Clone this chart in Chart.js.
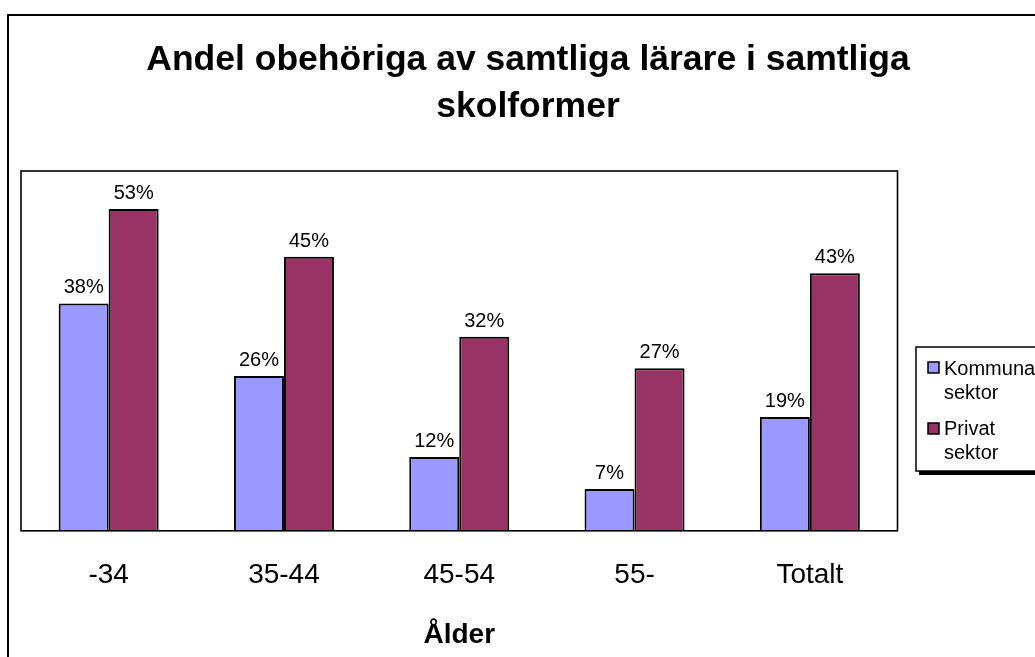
<!DOCTYPE html>
<html>
<head>
<meta charset="utf-8">
<script src="https://cdn.jsdelivr.net/npm/chart.js@4/dist/chart.umd.min.js"></script>
<style>
  html, body { margin: 0; padding: 0; background: #fff; }
  canvas { display: block; }
</style>
</head>
<body>
<canvas id="c" width="1035" height="657"></canvas>
<script>
const titleLines = ['Andel obehöriga av samtliga lärare i samtliga', 'skolformer'];
const xAxisTitle = 'Ålder';
const categories = ['-34', '35-44', '45-54', '55-', 'Totalt'];
const seriesNames = ['Kommunal sektor', 'Privat sektor'];
const kommunal = [37.6, 25.6, 12.2, 6.9, 18.8];
const privat = [53.2, 45.3, 32.1, 26.9, 42.6];

const FONT = "'Liberation Sans', Arial, Helvetica, sans-serif";

const decorations = {
  id: 'decorations',
  beforeDraw(chart) {
    const ctx = chart.ctx;
    ctx.save();
    ctx.fillStyle = '#fff';
    ctx.fillRect(0, 0, chart.width, chart.height);
    ctx.strokeStyle = '#000';
    ctx.lineWidth = 2;
    ctx.strokeRect(8, 15, 1100, 1100);
    ctx.restore();
  },
  afterDatasetsDraw(chart) {
    const ctx = chart.ctx;
    const a = chart.chartArea;
    ctx.save();
    ctx.strokeStyle = '#000';
    ctx.lineWidth = 1.6;
    ctx.strokeRect(a.left, a.top, a.right - a.left, a.bottom - a.top);
    ctx.fillStyle = '#000';
    ctx.font = '20px ' + FONT;
    ctx.textAlign = 'center';
    ctx.textBaseline = 'alphabetic';
    chart.data.datasets.forEach((ds, di) => {
      const meta = chart.getDatasetMeta(di);
      meta.data.forEach((el, i) => {
        ctx.fillText(Math.round(ds.data[i]) + '%', el.x, el.y - 10);
      });
    });
    const lx = 916, ly = 347, lw = 160, lh = 124;
    ctx.fillStyle = '#000';
    ctx.fillRect(lx + 3, ly + 4, lw, lh);
    ctx.fillStyle = '#fff';
    ctx.fillRect(lx, ly, lw, lh);
    ctx.lineWidth = 1.5;
    ctx.strokeStyle = '#000';
    ctx.strokeRect(lx, ly, lw, lh);
    ctx.font = '20px ' + FONT;
    ctx.textAlign = 'left';
    const rows = [{my: 362, base: [375, 399]}, {my: 423, base: [435, 459]}];
    chart.data.datasets.forEach((ds, di) => {
      const r = rows[di];
      ctx.fillStyle = ds.backgroundColor;
      ctx.fillRect(928, r.my, 11, 11);
      ctx.lineWidth = 1.5;
      ctx.strokeStyle = '#000';
      ctx.strokeRect(928, r.my, 11, 11);
      ctx.fillStyle = '#000';
      const parts = ds.label.split(' ');
      parts.forEach((p, k) => ctx.fillText(p, 944, r.base[k]));
    });
    ctx.restore();
  }
};

new Chart(document.getElementById('c'), {
  type: 'bar',
  data: {
    labels: categories,
    datasets: [
      { label: seriesNames[0], data: kommunal, backgroundColor: '#9999FF', borderColor: '#000', borderWidth: 2, borderSkipped: 'bottom' },
      { label: seriesNames[1], data: privat, backgroundColor: '#993366', borderColor: '#000', borderWidth: 2, borderSkipped: 'bottom' }
    ]
  },
  options: {
    responsive: false,
    animation: false,
    events: [],
    layout: { padding: { left: 21, right: 0, top: 20, bottom: 0 } },
    datasets: { bar: { categoryPercentage: 0.5705, barPercentage: 1.0 } },
    plugins: {
      legend: { display: false },
      tooltip: { enabled: false },
      title: {
        display: true,
        text: titleLines,
        color: '#000',
        font: { family: FONT, size: 35.5, weight: 'bold', lineHeight: 1.324 },
        padding: { top: 17, bottom: 40 }
      }
    },
    scales: {
      x: {
        grid: { display: false, drawTicks: false },
        border: { display: false },
        ticks: { color: '#000', font: { family: FONT, size: 28 }, padding: 28, maxRotation: 0, autoSkip: false },
        title: { display: true, text: xAxisTitle, color: '#000', font: { family: FONT, size: 28, weight: 'bold' }, padding: { top: -2, bottom: 5 } }
      },
      y: {
        position: 'right',
        min: 0,
        max: 59.5,
        grid: { display: false, drawTicks: false },
        border: { display: false },
        ticks: { display: false },
        afterFit(scale) { scale.width = 137.5; }
      }
    }
  },
  plugins: [decorations]
});
</script>
</body>
</html>
